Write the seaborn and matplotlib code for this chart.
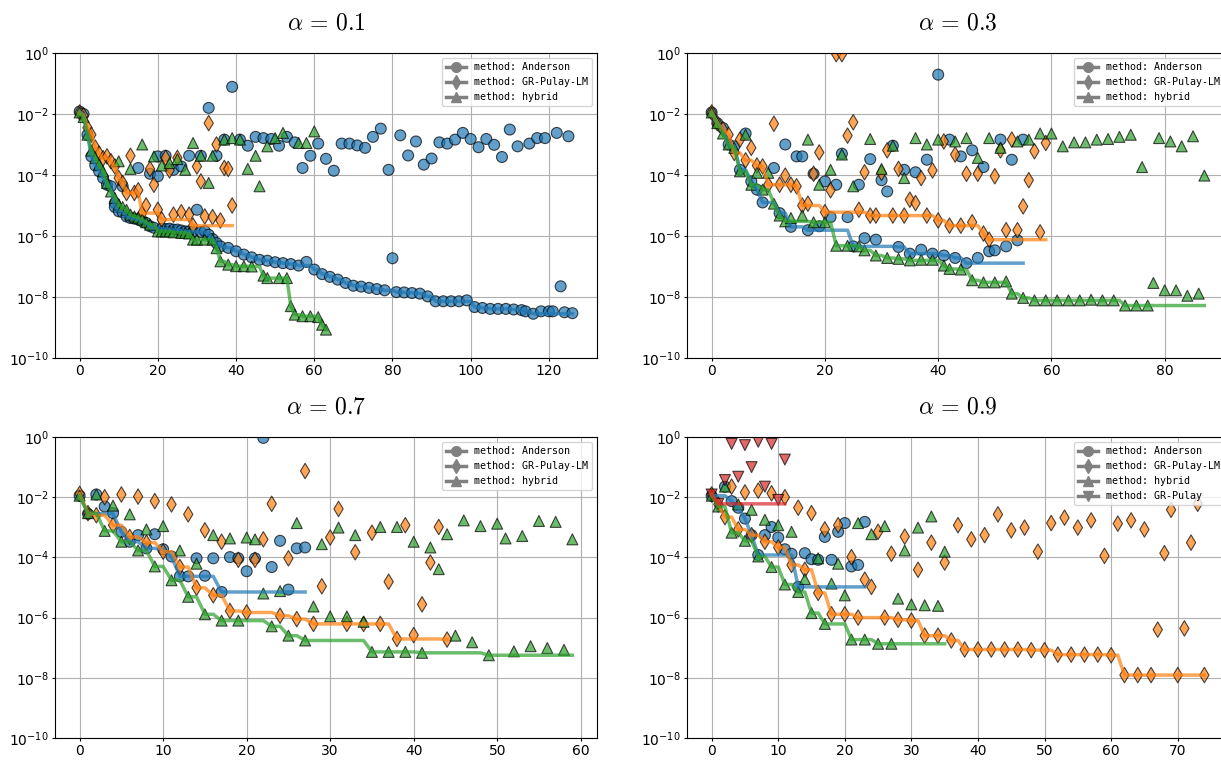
import numpy as np
import pandas as pd
import matplotlib
matplotlib.use("Agg")
import matplotlib.pyplot as plt
import seaborn as sns
from matplotlib.lines import Line2D
from matplotlib.ticker import LogLocator, NullLocator

# ---------------- data: (iteration, log10 residual) ----------------
ALPHAS = ["0.1", "0.3", "0.7", "0.9"]
METHODS = ["Anderson", "GR-Pulay-LM", "hybrid", "GR-Pulay"]

P1_ANDERSON = [(0,-1.92),(1,-2.0),(2,-2.68),(3,-3.39),(4,-3.69),(5,-3.88),(6,-4.10),(7,-4.32),(8,-4.37),(9,-4.92),(9,-5.05),(10,-5.19),(11,-4.37),(11,-5.22),(12,-5.36),(13,-5.41),(14,-5.43),(15,-3.77),(15,-5.46),(16,-5.52),(17,-5.57),(18,-3.96),(18,-5.68),(19,-5.73),(20,-3.39),(20,-4.04),(21,-5.76),(22,-3.37),(22,-5.77),(23,-5.76),(24,-3.83),(24,-5.79),(25,-5.79),(26,-3.72),(26,-5.82),(27,-5.85),(28,-3.37),(28,-5.85),(29,-5.86),(30,-5.14),(31,-3.37),(31,-5.87),(32,-5.84),(33,-1.80),(33,-5.96),(34,-6.10),(35,-3.37),(35,-6.23),(36,-6.34),(37,-2.84),(38,-6.39),(39,-1.11),(40,-6.50),(41,-2.84),(42,-6.61),(43,-3.04),(44,-6.70),(45,-2.75),(46,-6.78),(47,-2.79),(48,-6.81),(49,-2.82),(50,-6.86),(51,-3.04),(52,-6.89),(53,-2.75),(54,-6.92),(55,-2.93),(56,-6.97),(57,-3.77),(58,-6.85),(59,-3.37),(60,-7.10),(61,-2.97),(62,-7.25),(63,-3.47),(64,-7.34),(65,-3.86),(66,-7.43),(67,-2.97),(68,-7.54),(69,-2.97),(70,-7.63),(71,-3.03),(72,-7.66),(73,-3.11),(74,-7.70),(75,-2.75),(76,-7.74),(77,-2.48),(78,-7.78),(79,-3.83),(80,-6.73),(81,-7.84),(82,-2.70),(83,-7.85),(84,-3.36),(85,-7.87),(86,-2.90),(87,-7.89),(88,-3.66),(89,-7.98),(90,-3.46),(91,-8.14),(92,-2.93),(93,-8.14),(94,-2.97),(95,-8.14),(96,-2.84),(97,-8.14),(98,-2.62),(99,-8.11),(100,-2.82),(101,-8.33),(102,-3.09),(103,-8.36),(104,-2.82),(105,-8.39),(106,-3.01),(107,-8.39),(108,-3.41),(109,-8.39),(110,-2.51),(111,-8.41),(112,-3.06),(113,-8.43),(114,-8.47),(115,-2.97),(116,-8.55),(117,-2.79),(118,-8.47),(119,-2.79),(120,-8.47),(121,-8.47),(122,-2.62),(123,-7.65),(124,-8.50),(125,-2.73),(126,-8.53)]
P1_GRPLM = [(0,-1.95),(1,-2.05),(2,-2.45),(3,-2.68),(4,-3.1),(5,-3.3),(6,-3.45),(7,-3.39),(8,-3.55),(9,-3.72),(10,-4.1),(11,-4.26),(12,-4.59),(13,-3.37),(14,-4.59),(15,-4.5),(16,-5.25),(17,-5.0),(18,-3.8),(19,-4.32),(20,-5.14),(21,-5.46),(22,-3.44),(23,-3.85),(24,-5.30),(25,-3.44),(26,-5.22),(28,-5.30),(29,-5.66),(30,-3.72),(31,-4.21),(32,-5.36),(33,-2.30),(34,-5.38),(35,-3.0),(36,-5.49),(37,-3.77),(38,-3.80),(39,-5.0)]
P1_HYBRID = [(0,-1.95),(1,-2.1),(2,-2.68),(3,-3.2),(4,-3.44),(5,-3.66),(6,-3.88),(7,-4.26),(8,-4.54),(9,-4.75),(10,-3.55),(10,-4.97),(11,-5.05),(12,-5.14),(13,-3.80),(13,-5.30),(14,-5.36),(15,-5.40),(16,-3.0),(16,-5.46),(17,-5.55),(18,-5.63),(19,-3.39),(20,-5.85),(21,-3.69),(21,-5.85),(22,-5.85),(23,-3.61),(23,-5.85),(24,-5.88),(25,-3.48),(26,-5.90),(27,-3.83),(27,-5.90),(28,-5.92),(29,-2.95),(29,-6.12),(30,-6.12),(31,-3.37),(32,-6.12),(33,-4.26),(34,-3.37),(34,-6.12),(35,-6.40),(36,-6.83),(37,-2.84),(38,-6.94),(39,-2.79),(40,-6.99),(41,-2.84),(42,-6.99),(43,-3.80),(44,-7.0),(45,-3.37),(46,-4.37),(47,-7.3),(48,-3.06),(48,-7.38),(50,-2.79),(51,-7.38),(52,-2.62),(53,-7.38),(54,-8.3),(55,-8.58),(56,-2.95),(57,-8.63),(58,-2.95),(59,-8.63),(60,-2.57),(61,-8.66),(62,-8.91),(63,-9.07)]

P2_ANDERSON = [(0,-1.95),(1,-2.3),(2,-2.46),(3,-3.0),(4,-3.06),(5,-3.83),(6,-2.64),(7,-4.21),(8,-4.48),(9,-4.90),(11,-3.77),(12,-5.25),(13,-3.0),(14,-5.70),(15,-3.39),(16,-3.39),(17,-5.81),(18,-3.96),(19,-5.68),(20,-4.21),(21,-5.38),(22,-4.32),(23,-3.30),(24,-5.38),(25,-6.34),(26,-4.32),(27,-6.07),(28,-3.48),(29,-6.12),(30,-4.17),(31,-4.54),(32,-3.04),(33,-6.36),(34,-3.83),(35,-6.58),(36,-3.91),(37,-6.45),(38,-3.50),(39,-6.58),(40,-0.71),(41,-6.64),(42,-2.84),(43,-6.72),(44,-3.39),(45,-6.89),(46,-3.19),(47,-6.72),(48,-3.74),(49,-6.50),(50,-6.47),(51,-2.84),(52,-6.34),(53,-3.50),(54,-6.14),(55,-2.84)]
P2_GRPLM = [(0,-1.95),(1,-2.3),(2,-2.5),(3,-2.68),(4,-3.28),(5,-2.84),(6,-3.52),(7,-3.11),(8,-3.69),(9,-3.72),(10,-4.32),(11,-2.32),(12,-4.32),(13,-4.02),(14,-4.32),(15,-4.37),(16,-5.0),(17,-4.94),(18,-3.96),(19,-3.26),(20,-5.22),(21,-4.50),(22,-0.04),(23,-0.04),(24,-2.71),(25,-2.27),(26,-5.14),(27,-3.91),(28,-5.33),(29,-5.33),(30,-3.93),(31,-3.19),(32,-5.33),(33,-3.80),(34,-5.33),(35,-4.81),(36,-4.92),(37,-4.10),(38,-5.33),(39,-3.85),(40,-5.49),(41,-2.90),(42,-5.66),(43,-3.33),(44,-5.66),(45,-3.96),(46,-5.55),(47,-3.96),(48,-5.92),(49,-6.12),(50,-4.04),(51,-3.19),(52,-5.81),(53,-2.84),(54,-5.81),(55,-5.03),(56,-4.17),(57,-3.22),(58,-5.88),(59,-2.95)]
P2_HYBRID = [(0,-1.95),(1,-2.3),(2,-2.64),(3,-3.0),(4,-3.11),(5,-3.88),(6,-2.68),(7,-4.32),(8,-3.93),(9,-4.48),(10,-3.93),(11,-4.94),(12,-5.33),(13,-5.52),(14,-5.41),(16,-5.33),(17,-2.84),(18,-5.55),(19,-4.32),(20,-5.55),(21,-3.83),(22,-6.32),(23,-3.33),(24,-6.32),(25,-4.37),(26,-6.34),(27,-6.47),(28,-2.82),(29,-6.64),(30,-3.80),(31,-6.72),(32,-3.04),(33,-6.75),(34,-4.10),(35,-6.80),(36,-2.79),(37,-6.78),(38,-3.0),(39,-6.78),(40,-2.84),(41,-6.97),(42,-7.08),(43,-2.90),(44,-7.10),(45,-2.79),(46,-7.45),(47,-3.44),(48,-7.52),(49,-2.79),(50,-7.52),(51,-3.11),(52,-7.49),(53,-7.89),(54,-2.90),(55,-8.03),(56,-2.84),(57,-8.11),(58,-2.64),(59,-8.11),(60,-2.64),(61,-8.11),(62,-3.06),(63,-8.11),(64,-2.93),(65,-8.11),(66,-2.93),(67,-8.09),(68,-2.84),(69,-8.11),(70,-2.82),(71,-8.11),(72,-2.75),(73,-8.28),(74,-2.68),(75,-8.28),(76,-3.74),(77,-8.28),(78,-7.54),(79,-2.79),(80,-7.78),(81,-2.90),(82,-7.78),(83,-3.06),(84,-7.96),(85,-2.73),(86,-7.89),(87,-4.02)]

P3_ANDERSON = [(0,-1.95),(1,-2.55),(2,-1.91),(3,-2.31),(4,-2.53),(5,-3.15),(6,-3.48),(7,-3.26),(8,-3.70),(9,-3.23),(10,-3.73),(11,-3.97),(12,-4.63),(13,-4.63),(14,-4.03),(15,-4.61),(16,-4.03),(17,-5.15),(18,-3.99),(19,-4.03),(20,-4.46),(21,-4.03),(22,-0.03),(23,-4.32),(24,-3.45),(25,-5.07),(26,-3.70),(27,-3.67)]
P3_GRPLM = [(0,-1.89),(1,-2.53),(2,-2.60),(3,-2.0),(4,-2.93),(5,-1.91),(6,-3.32),(7,-1.98),(8,-3.51),(9,-2.13),(10,-3.81),(11,-2.24),(12,-4.32),(13,-2.57),(14,-5.01),(15,-3.10),(16,-5.26),(17,-3.48),(18,-5.78),(19,-4.08),(20,-5.83),(21,-4.08),(22,-3.40),(23,-2.22),(24,-5.94),(25,-4.03),(26,-6.05),(27,-1.13),(28,-6.21),(29,-4.96),(30,-3.34),(31,-2.39),(32,-6.21),(33,-3.83),(34,-6.21),(35,-3.18),(36,-6.21),(37,-4.81),(38,-6.71),(39,-2.93),(40,-6.58),(41,-5.56),(42,-4.17),(43,-2.99),(44,-6.73)]
P3_HYBRID = [(0,-1.95),(1,-2.53),(2,-1.91),(3,-3.12),(4,-2.28),(5,-3.48),(6,-2.57),(7,-3.77),(8,-3.07),(9,-4.30),(10,-2.96),(11,-4.76),(12,-3.77),(13,-5.31),(14,-4.21),(15,-5.89),(16,-3.26),(17,-6.10),(18,-3.37),(19,-6.10),(20,-3.34),(21,-3.40),(22,-5.20),(23,-6.29),(24,-5.12),(25,-6.60),(26,-2.86),(27,-6.76),(28,-5.63),(29,-3.56),(30,-5.96),(31,-3.01),(32,-5.96),(33,-3.26),(34,-6.14),(35,-7.14),(36,-2.99),(37,-7.14),(38,-2.99),(39,-7.14),(40,-3.48),(41,-7.17),(42,-3.67),(43,-4.39),(44,-3.23),(45,-6.60),(46,-2.77),(47,-6.82),(48,-2.96),(49,-7.25),(50,-2.88),(51,-3.37),(52,-7.12),(53,-3.29),(54,-6.95),(55,-2.79),(56,-7.01),(57,-2.82),(58,-7.07),(59,-3.40)]

P4_ANDERSON = [(0,-1.95),(2,-1.65),(3,-2.13),(4,-2.35),(5,-2.71),(6,-3.26),(7,-3.92),(8,-3.26),(9,-2.99),(10,-3.34),(11,-3.73),(12,-3.88),(13,-4.98),(14,-3.86),(15,-4.06),(16,-4.08),(17,-3.32),(18,-4.08),(19,-3.15),(20,-2.86),(21,-4.30),(22,-4.25),(23,-2.82)]
P4_GRPLM = [(0,-1.91),(1,-2.24),(2,-2.66),(3,-1.65),(4,-3.07),(5,-1.84),(6,-3.26),(7,-1.78),(8,-3.48),(9,-1.87),(10,-3.67),(11,-2.0),(12,-4.25),(13,-2.35),(14,-4.41),(15,-2.53),(16,-5.18),(17,-3.07),(18,-5.89),(19,-2.93),(20,-5.89),(21,-3.99),(22,-6.0),(23,-4.74),(24,-4.98),(25,-3.15),(26,-6.0),(27,-3.88),(28,-6.07),(29,-3.31),(30,-6.10),(31,-4.41),(32,-6.6),(33,-3.51),(34,-6.6),(35,-4.17),(36,-6.76),(37,-2.93),(38,-7.06),(39,-3.40),(40,-7.06),(41,-3.26),(42,-7.06),(43,-2.57),(44,-7.06),(45,-3.10),(46,-7.06),(47,-3.01),(48,-7.08),(49,-3.81),(50,-7.08),(51,-2.86),(52,-7.23),(53,-2.68),(54,-7.23),(55,-3.01),(56,-7.23),(57,-2.77),(58,-7.23),(59,-3.95),(60,-7.25),(61,-2.88),(62,-7.91),(63,-2.77),(64,-7.91),(65,-3.07),(66,-7.91),(67,-6.40),(68,-3.86),(69,-2.42),(70,-7.91),(71,-6.36),(72,-3.51),(73,-2.22),(74,-7.91)]
P4_HYBRID = [(0,-1.95),(1,-2.31),(2,-1.65),(3,-3.18),(4,-2.24),(5,-3.45),(6,-2.42),(7,-3.97),(8,-2.75),(9,-4.32),(10,-2.93),(11,-4.90),(12,-3.15),(13,-5.15),(14,-4.72),(15,-5.85),(16,-4.03),(17,-6.21),(18,-4.87),(19,-4.21),(20,-5.26),(21,-6.73),(22,-2.86),(23,-6.73),(24,-3.23),(25,-6.87),(26,-2.96),(27,-6.87),(28,-5.37),(29,-3.77),(30,-5.56),(31,-3.01),(32,-5.59),(33,-2.64),(34,-5.61),(35,-3.81)]
P4_GRPULAY = [(0,-1.91),(1,-2.22),(2,-1.43),(3,-0.23),(4,-1.32),(5,-0.27),(6,-1.0),(7,-0.16),(8,-1.65),(9,-0.23),(10,-2.09),(11,-0.75)]

PANELS = [
    {"Anderson": P1_ANDERSON, "GR-Pulay-LM": P1_GRPLM, "hybrid": P1_HYBRID},
    {"Anderson": P2_ANDERSON, "GR-Pulay-LM": P2_GRPLM, "hybrid": P2_HYBRID},
    {"Anderson": P3_ANDERSON, "GR-Pulay-LM": P3_GRPLM, "hybrid": P3_HYBRID},
    {"Anderson": P4_ANDERSON, "GR-Pulay-LM": P4_GRPLM, "hybrid": P4_HYBRID, "GR-Pulay": P4_GRPULAY},
]

PALETTE = {"Anderson": "#1f77b4", "GR-Pulay-LM": "#ff7f0e", "hybrid": "#2ca02c", "GR-Pulay": "#d62728"}
MARKERS = {"Anderson": "o", "GR-Pulay-LM": "d", "hybrid": "^", "GR-Pulay": "v"}

# ---------------- figure ----------------
W, H = 1221, 760
fig = plt.figure(figsize=(W / 100, H / 100), dpi=100)
aw = 542 / W
positions = [
    [55 / W, 1 - 358 / H, aw, 305 / H],
    [687 / W, 1 - 358 / H, aw, 305 / H],
    [55 / W, 1 - 738 / H, aw, 301 / H],
    [687 / W, 1 - 738 / H, aw, 301 / H],
]

for alpha, panel, pos in zip(ALPHAS, PANELS, positions):
    ax = fig.add_axes(pos)
    ax.set_yscale("log")
    rows, lrows = [], []
    for m, pts in panel.items():
        it = np.array([p[0] for p in pts])
        res = 10.0 ** np.array([p[1] for p in pts])
        for i, r in zip(it, res):
            rows.append({"iteration": i, "residual": r, "method": m})
        s = pd.Series(res).groupby(it).min().cummin()
        for i, r in s.items():
            lrows.append({"iteration": i, "best": r, "method": m})
    df = pd.DataFrame(rows)
    ldf = pd.DataFrame(lrows)
    order = [m for m in METHODS if m in panel]

    sns.lineplot(data=ldf, x="iteration", y="best", hue="method", hue_order=order,
                 palette=PALETTE, estimator=None, linewidth=2.5, alpha=0.7,
                 legend=False, ax=ax)
    sns.scatterplot(data=df, x="iteration", y="residual", hue="method", style="method",
                    hue_order=order, style_order=order, markers=MARKERS, palette=PALETTE,
                    s=62, alpha=0.7, edgecolor="black", linewidth=0.8, legend=False, ax=ax)

    ax.set_ylim(1e-10, 1)
    ax.yaxis.set_major_locator(LogLocator(base=100))
    ax.yaxis.set_minor_locator(NullLocator())
    ax.tick_params(axis="both", which="major", length=2.5, pad=1.8, labelsize=10)
    ax.set_xlabel("")
    ax.set_ylabel("")
    ax.grid(True, color="#b0b0b0", linewidth=0.8)
    ax.set_axisbelow(True)
    ax.set_title(r"$\alpha \,=\, " + alpha + "$", fontsize=17, math_fontfamily="cm", pad=17)

    handles = [Line2D([], [], color="gray", marker=MARKERS[m], markersize=7, linewidth=2.5,
                      label=f"method: {m}") for m in order]
    ax.legend(handles=handles, loc="upper right",
              prop={"family": "DejaVu Sans Mono", "size": 7.2})

fig.savefig("out.png", dpi=100)
